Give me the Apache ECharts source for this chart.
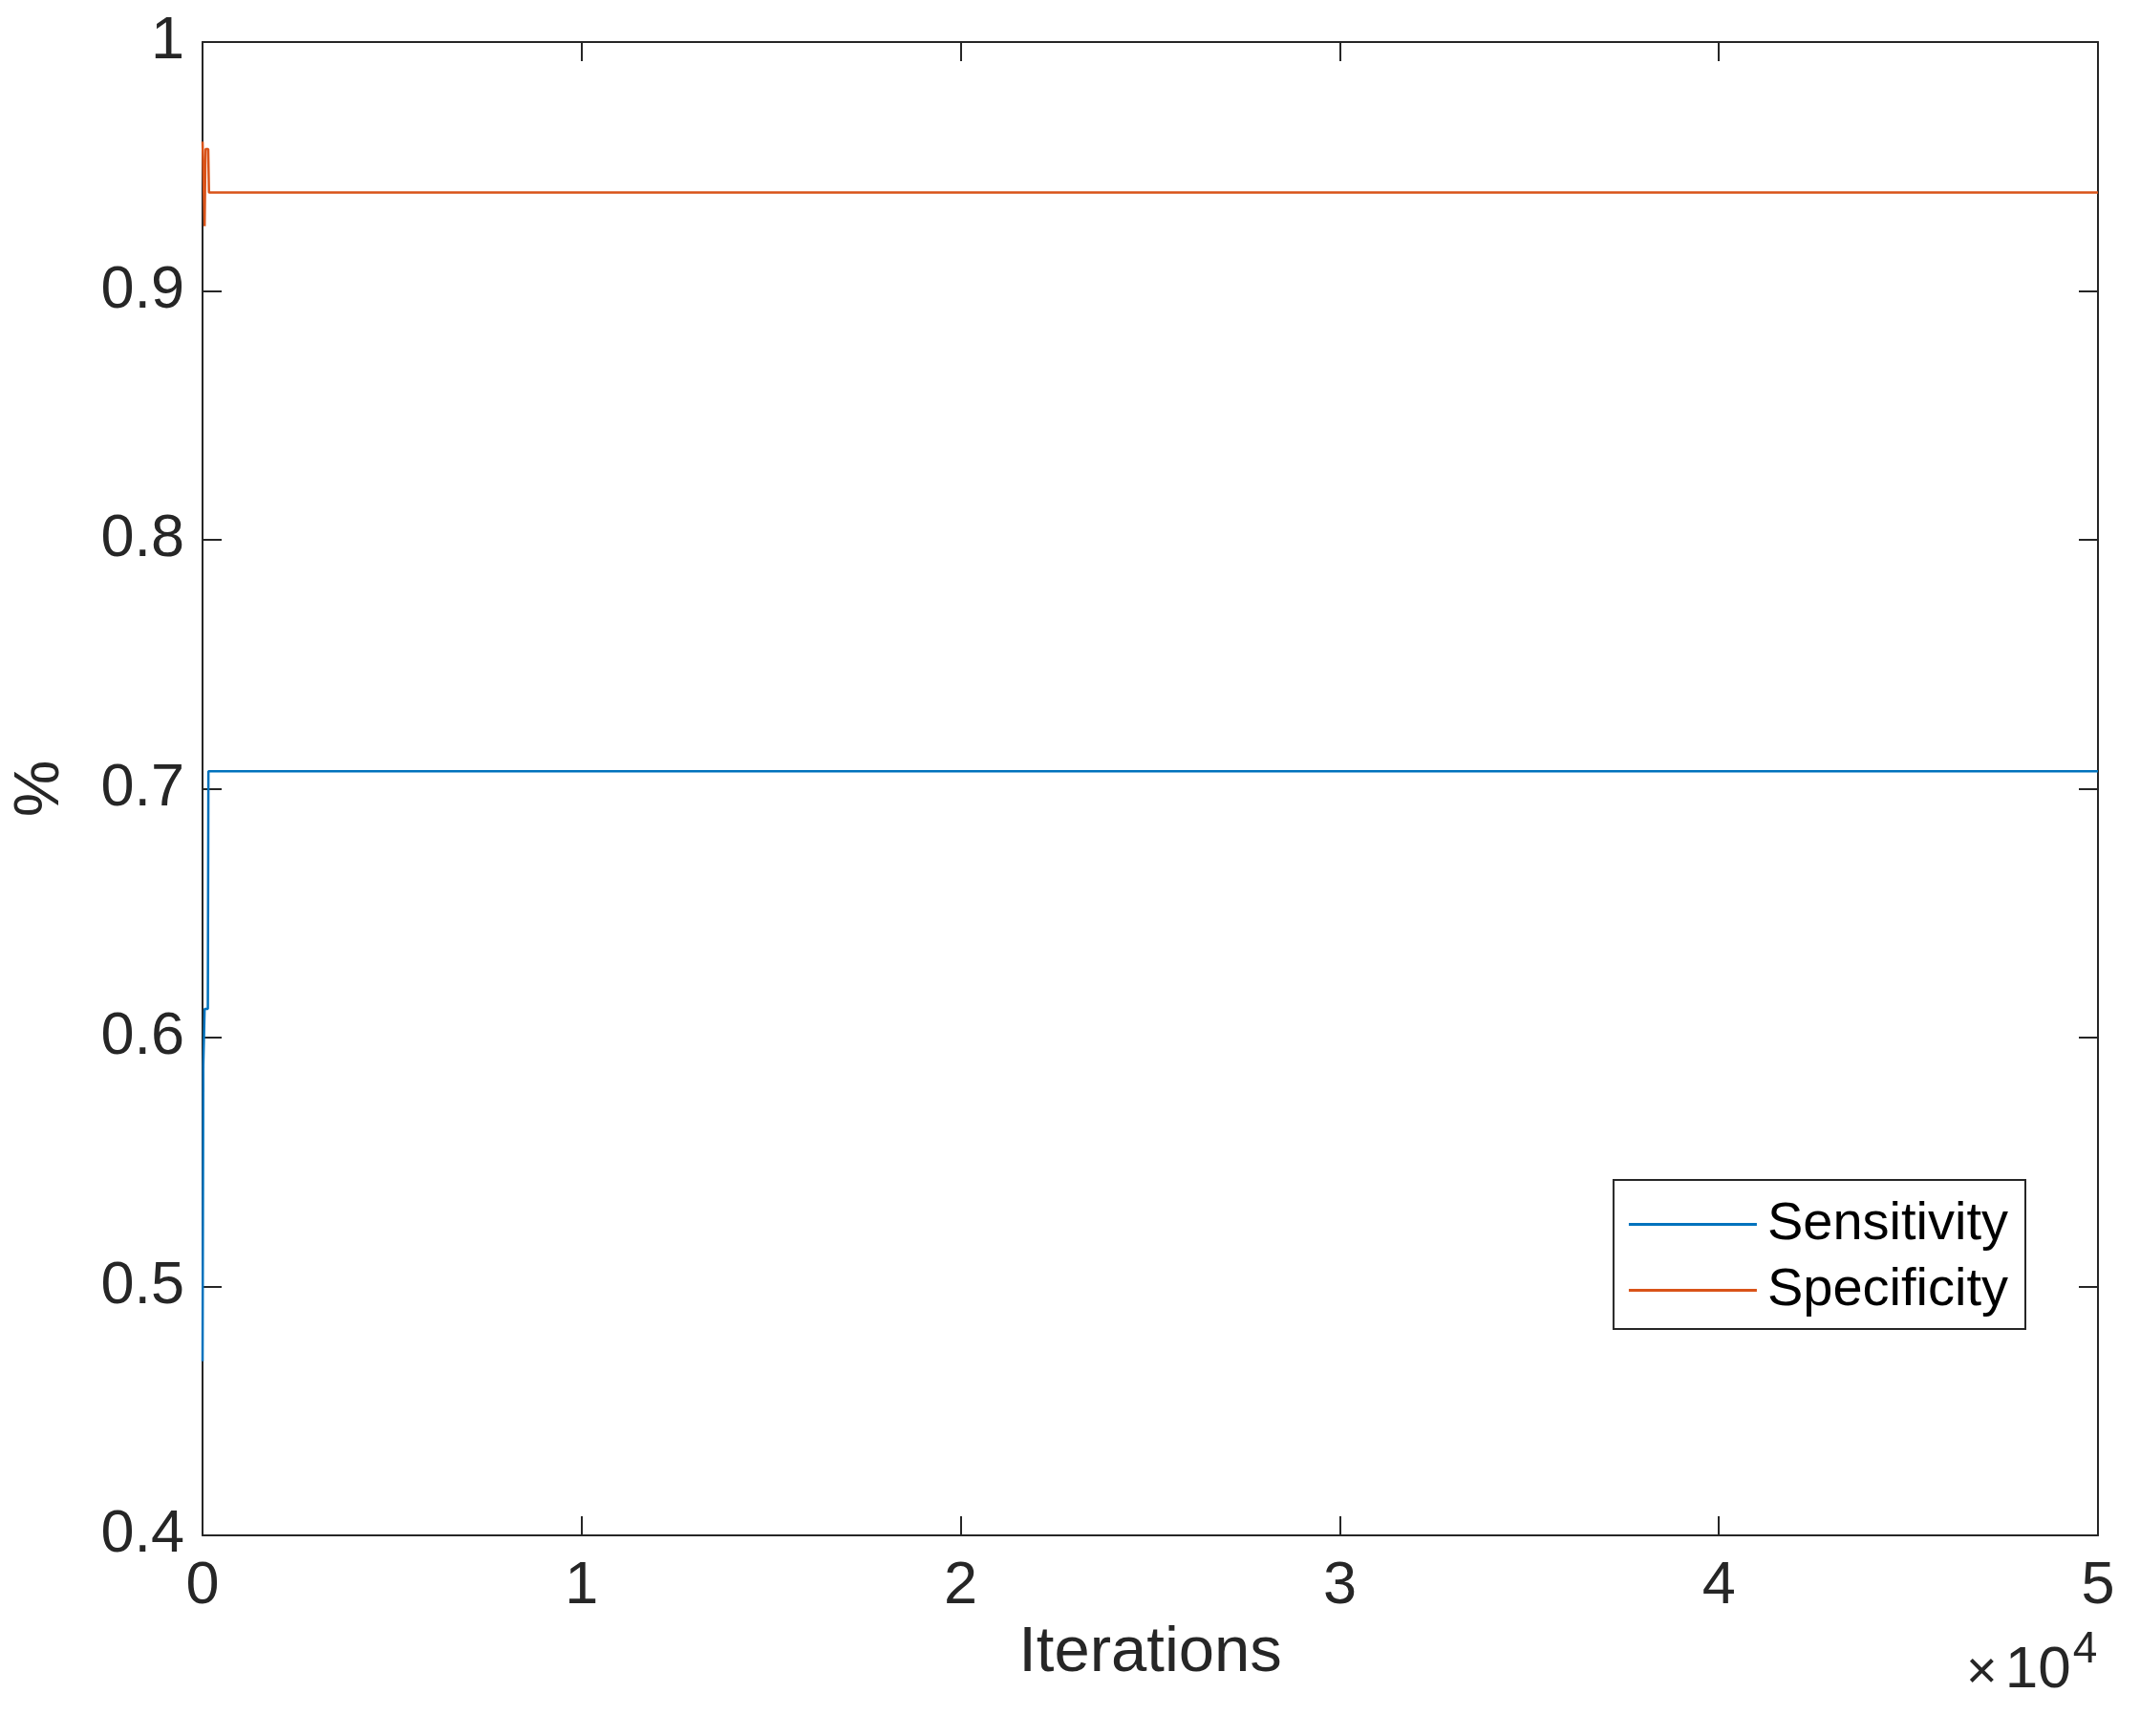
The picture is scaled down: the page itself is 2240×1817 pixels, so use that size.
<!DOCTYPE html>
<html>
<head>
<meta charset="utf-8">
<script src="https://cdn.jsdelivr.net/npm/echarts@6/dist/echarts.min.js"></script>
<style>
html,body{margin:0;padding:0;background:#fff;}
#chart{width:2240px;height:1817px;}
</style>
</head>
<body>
<div id="chart"></div>
<script>
// Data (x = iteration, y = fraction)
const seriesNames = ['Sensitivity', 'Specificity'];
const sensitivityX = [1, 20, 45, 55, 140, 155, 50000];
const sensitivityY = [0.470, 0.589, 0.589, 0.6115, 0.6115, 0.707, 0.707];
const specificityX = [1, 30, 55, 80, 150, 170, 50000];
const specificityY = [0.960, 0.960, 0.926, 0.957, 0.957, 0.9395, 0.9395];
const xTicks = [0, 10000, 20000, 30000, 40000, 50000];
const yTicks = [0.4, 0.5, 0.6, 0.7, 0.8, 0.9, 1];

const FONT = '"Liberation Sans", Arial, Helvetica, sans-serif';
const AX = '#262626';
const pair = (xs, ys) => xs.map((x, i) => [x, ys[i]]);

const chart = echarts.init(document.getElementById('chart'), null, {renderer: 'canvas'});

const axisCommon = {
  axisLine: {show: true, onZero: false, lineStyle: {color: AX, width: 2}},
  axisTick: {show: true, inside: true, length: 20, lineStyle: {color: AX, width: 2}},
  splitLine: {show: false}
};

chart.setOption({
  backgroundColor: '#ffffff',
  animation: false,
  grid: {left: 212, right: 44, top: 44, bottom: 210, containLabel: false},
  xAxis: [
    Object.assign({}, axisCommon, {
      type: 'value', min: xTicks[0], max: xTicks[xTicks.length - 1], interval: 10000,
      position: 'bottom',
      name: 'Iterations', nameLocation: 'middle', nameGap: 75,
      nameTextStyle: {fontFamily: FONT, fontSize: 67, color: AX},
      axisLabel: {show: true, margin: 22, fontFamily: FONT, fontSize: 63, color: AX,
        formatter: v => String(v / 10000)}
    }),
    Object.assign({}, axisCommon, {
      type: 'value', min: xTicks[0], max: xTicks[xTicks.length - 1], interval: 10000,
      position: 'top', axisLabel: {show: false}
    })
  ],
  yAxis: [
    Object.assign({}, axisCommon, {
      type: 'value', min: yTicks[0], max: yTicks[yTicks.length - 1], interval: 0.1,
      position: 'left',
      name: '%', nameLocation: 'middle', nameGap: 136, nameRotate: 90,
      nameTextStyle: {fontFamily: FONT, fontSize: 67, color: AX},
      axisLabel: {show: true, margin: 19, fontFamily: FONT, fontSize: 63, color: AX,
        formatter: v => String(Math.round(v * 10) / 10)}
    }),
    Object.assign({}, axisCommon, {
      type: 'value', min: yTicks[0], max: yTicks[yTicks.length - 1], interval: 0.1,
      position: 'right', axisLabel: {show: false}
    })
  ],
  legend: {
    orient: 'vertical',
    right: 120, top: 1235,
    data: seriesNames,
    icon: 'rect',
    itemWidth: 134, itemHeight: 3, itemGap: 12,
    padding: [18, 18, 12, 16],
    borderColor: AX, borderWidth: 2, backgroundColor: '#ffffff',
    textStyle: {fontFamily: FONT, fontSize: 56, color: '#000', lineHeight: 57, padding: [0, 0, 0, 6]}
  },
  graphic: [{
    type: 'text', left: 2058, top: 1704,
    style: {
      text: '{x|×}{a|10}{b|4}',
      rich: {
        x: {fontFamily: FONT, fontSize: 56, fill: AX, verticalAlign: 'bottom', lineHeight: 76, padding: [0, 8, 0, 0]},
        a: {fontFamily: FONT, fontSize: 62, fill: AX, verticalAlign: 'bottom', lineHeight: 76},
        b: {fontFamily: FONT, fontSize: 46, fill: AX, verticalAlign: 'top', lineHeight: 76, padding: [0, 0, 34, 2]}
      }
    }
  }],
  series: [
    {
      name: seriesNames[0], type: 'line', xAxisIndex: 0, yAxisIndex: 0,
      data: pair(sensitivityX, sensitivityY),
      showSymbol: false, symbol: 'none', clip: true,
      lineStyle: {color: '#0072BD', width: 2.5}, itemStyle: {color: '#0072BD'}
    },
    {
      name: seriesNames[1], type: 'line', xAxisIndex: 0, yAxisIndex: 0,
      data: pair(specificityX, specificityY),
      showSymbol: false, symbol: 'none', clip: true,
      lineStyle: {color: '#D95319', width: 2.5}, itemStyle: {color: '#D95319'}
    }
  ]
});
</script>
</body>
</html>
